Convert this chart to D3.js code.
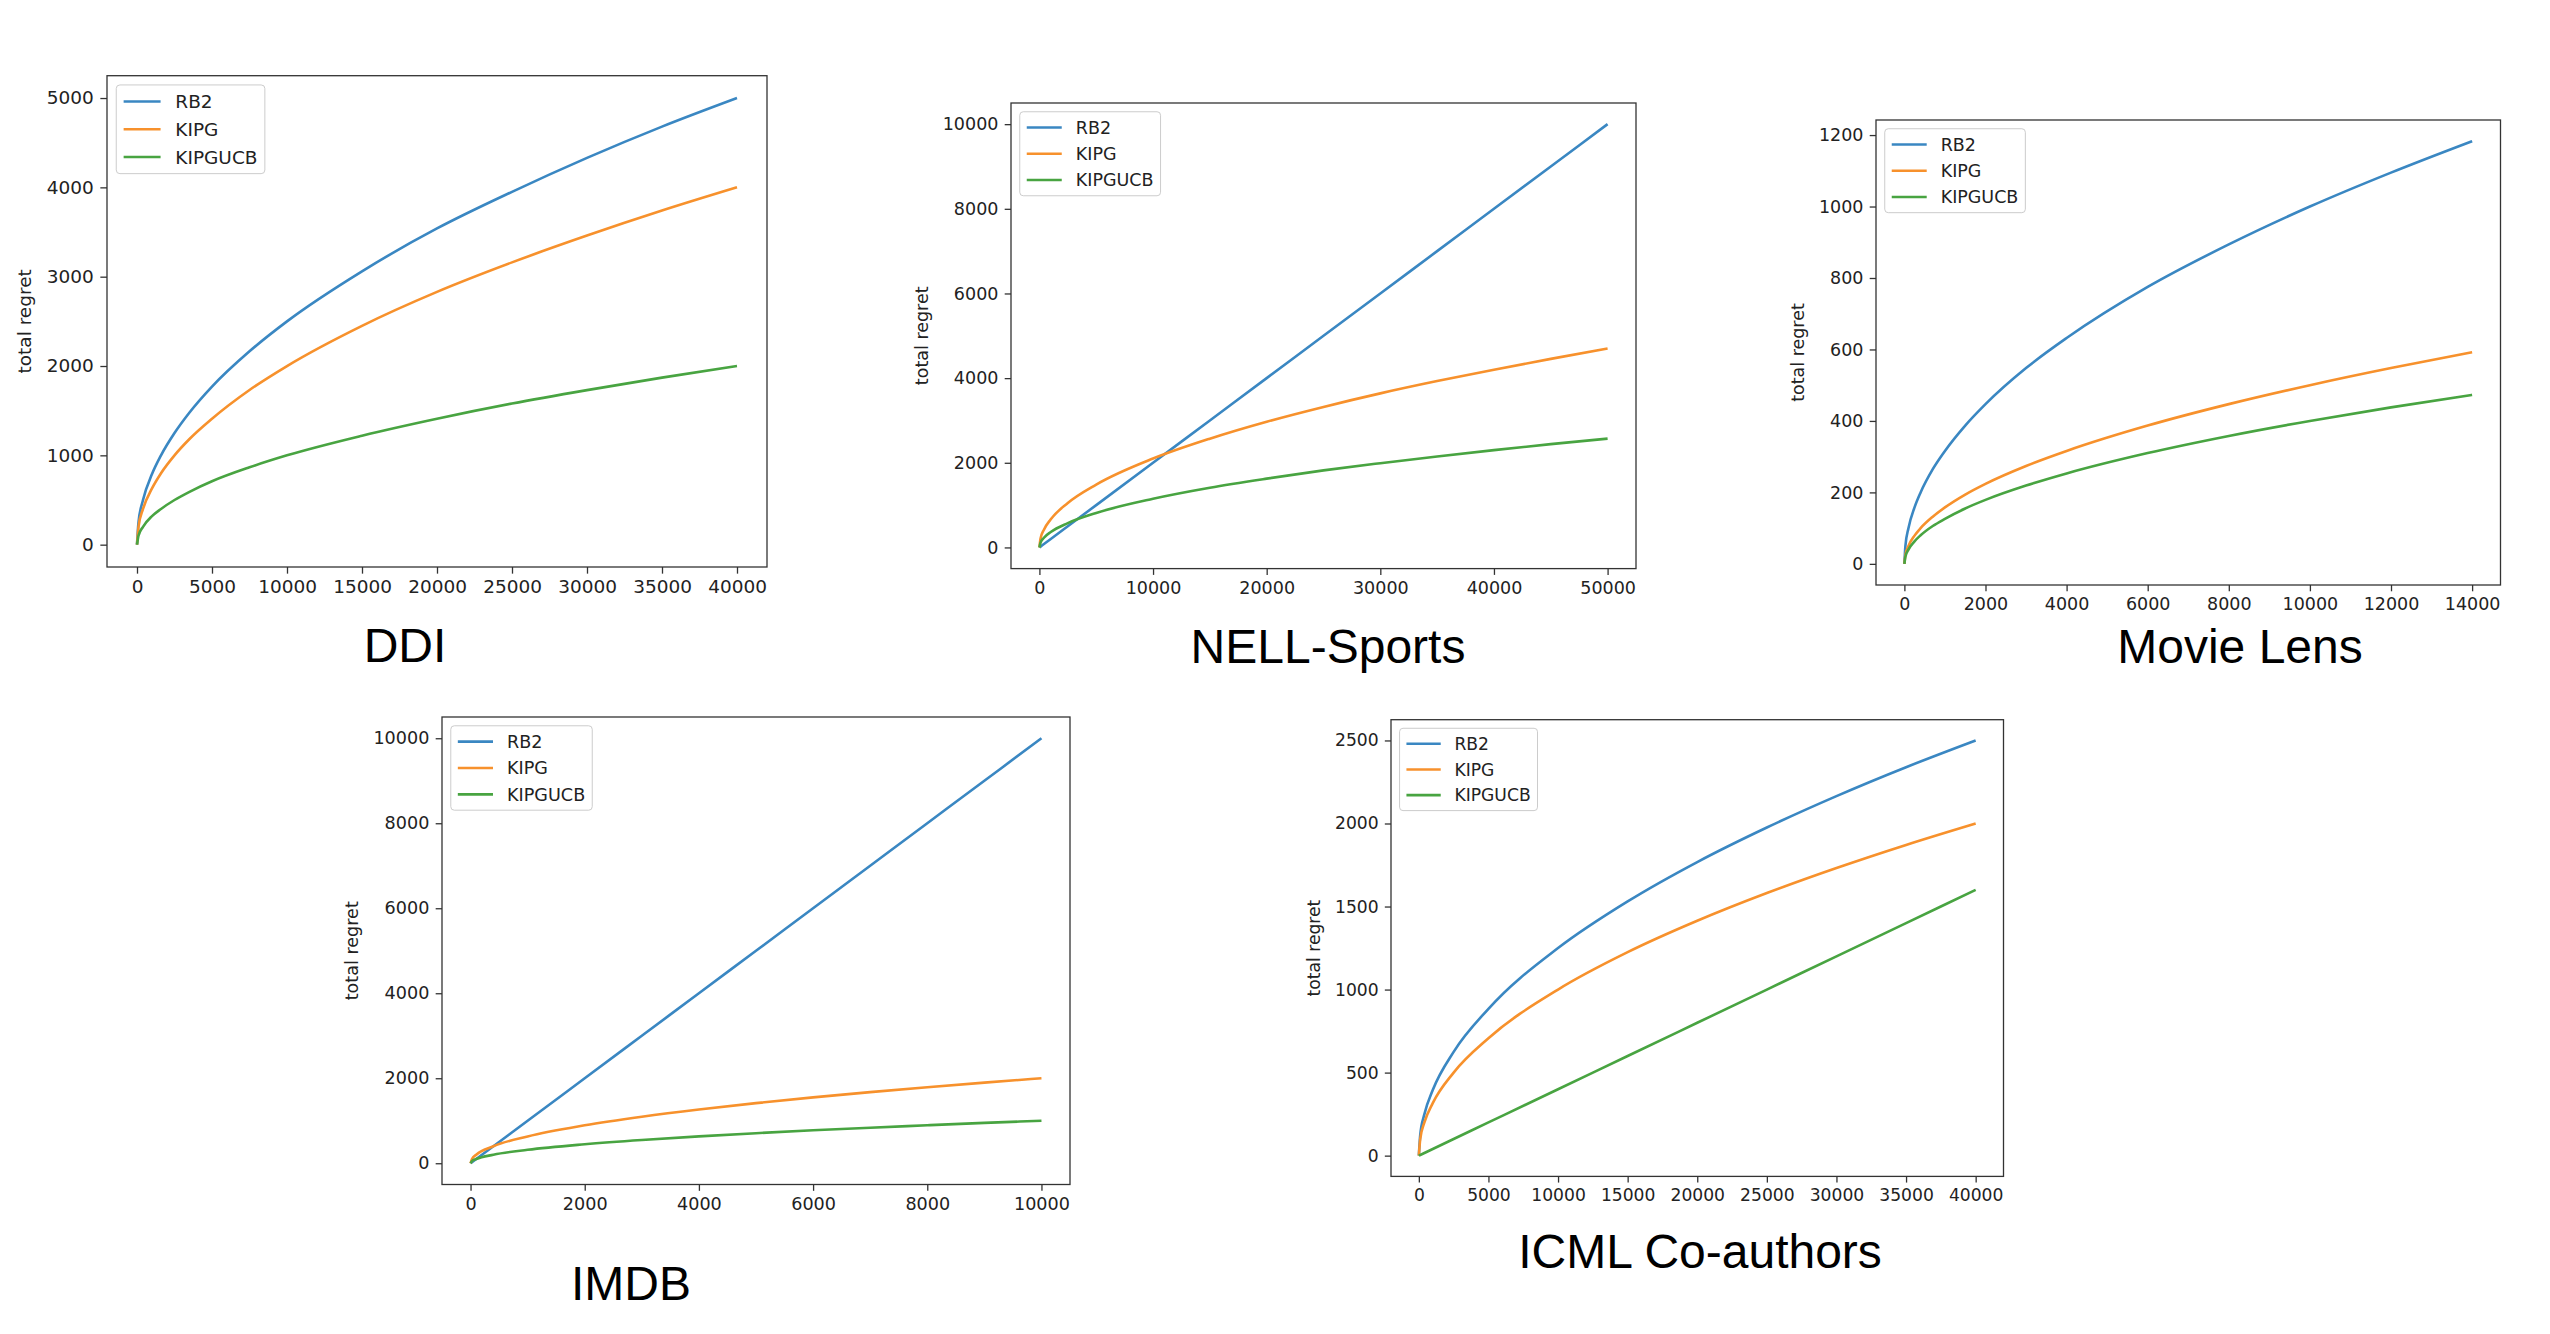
<!DOCTYPE html>
<html>
<head>
<meta charset="utf-8">
<script src="https://cdn.jsdelivr.net/npm/d3@7"></script>
<style>
  html, body { margin: 0; padding: 0; background: #fff; }
  svg { display: block; }
</style>
</head>
<body>
<div id="chart"></div>
<script>
const ddiX       = [0, 100, 400, 1000, 1600, 2500, 3500, 5000, 7500, 10000, 15000, 20000, 25000, 30000, 35000, 40000]
const ddiRB2     = [0, 250, 500, 790, 1000, 1250, 1480, 1770, 2165, 2500, 3060, 3540, 3950, 4330, 4680, 5000]
const ddiKIPG    = [0, 200, 400, 630, 800, 1000, 1183, 1410, 1732, 2000, 2450, 2830, 3160, 3460, 3740, 4000]
const ddiKIPGUCB = [0, 100, 200, 320, 400, 500, 592, 710, 866, 1000, 1220, 1410, 1580, 1730, 1870, 2000]
const ddiXTicks  = [0, 5000, 10000, 15000, 20000, 25000, 30000, 35000, 40000]
const ddiYTicks  = [0, 1000, 2000, 3000, 4000, 5000]

const nellX       = [0, 100, 400, 1000, 2500, 5000, 10000, 15000, 20000, 25000, 30000, 35000, 40000, 45000, 50000]
const nellRB2     = [0, 20, 80, 200, 500, 1000, 2000, 3000, 4000, 5000, 6000, 7000, 8000, 9000, 10000]
const nellKIPG    = [0, 210, 420, 665, 1050, 1485, 2100, 2570, 2970, 3320, 3640, 3930, 4200, 4455, 4700]
const nellKIPGUCB = [0, 115, 230, 365, 575, 815, 1150, 1410, 1625, 1820, 1990, 2150, 2300, 2440, 2570]
const nellXTicks  = [0, 10000, 20000, 30000, 40000, 50000]
const nellYTicks  = [0, 2000, 4000, 6000, 8000, 10000]

const mlX       = [0, 25, 100, 250, 400, 700, 1000, 1500, 2000, 3000, 4000, 6000, 8000, 10000, 12000, 14000]
const mlRB2     = [0, 50, 100, 158, 200, 265, 316, 387, 447, 548, 632, 775, 894, 1000, 1095, 1183]
const mlKIPG    = [0, 25, 50, 79, 100, 132, 158, 194, 224, 274, 316, 387, 447, 500, 548, 592]
const mlKIPGUCB = [0, 20, 40, 63, 80, 106, 126, 155, 179, 219, 253, 310, 358, 400, 438, 473]
const mlXTicks  = [0, 2000, 4000, 6000, 8000, 10000, 12000, 14000]
const mlYTicks  = [0, 200, 400, 600, 800, 1000, 1200]

const imdbX       = [0, 25, 100, 400, 1000, 2000, 3000, 4000, 5000, 6000, 7000, 8000, 9000, 10000]
const imdbRB2     = [0, 25, 100, 400, 1000, 2000, 3000, 4000, 5000, 6000, 7000, 8000, 9000, 10000]
const imdbKIPG    = [0, 100, 200, 400, 632, 894, 1095, 1265, 1414, 1549, 1673, 1789, 1897, 2000]
const imdbKIPGUCB = [0, 50, 100, 200, 316, 447, 548, 632, 707, 775, 837, 894, 949, 1000]
const imdbXTicks  = [0, 2000, 4000, 6000, 8000, 10000]
const imdbYTicks  = [0, 2000, 4000, 6000, 8000, 10000]

const icmlX       = [0, 100, 400, 1000, 2500, 5000, 10000, 15000, 20000, 25000, 30000, 35000, 40000]
const icmlRB2     = [0, 125, 250, 395, 625, 884, 1250, 1531, 1768, 1976, 2165, 2339, 2500]
const icmlKIPG    = [0, 100, 200, 316, 500, 707, 1000, 1225, 1414, 1581, 1732, 1871, 2000]
const icmlKIPGUCB = [0, 4, 16, 40, 100, 200, 400, 600, 800, 1000, 1200, 1400, 1600]
const icmlXTicks  = [0, 5000, 10000, 15000, 20000, 25000, 30000, 35000, 40000]
const icmlYTicks  = [0, 500, 1000, 1500, 2000, 2500]

const seriesNames  = ["RB2", "KIPG", "KIPGUCB"]
const seriesColors = ["#3a87c2", "#f7912c", "#48a441"]

// where each axes box and its caption sits on the page
const panels = [
  { title: "DDI",             box: [107, 75.7, 767, 567],      tx: 405,  ty: 662,
    x: ddiX,  ys: [ddiRB2, ddiKIPG, ddiKIPGUCB],    xTicks: ddiXTicks,  yTicks: ddiYTicks },
  { title: "NELL-Sports",     box: [1011, 103, 1636, 568.6],   tx: 1328, ty: 663,
    x: nellX, ys: [nellRB2, nellKIPG, nellKIPGUCB], xTicks: nellXTicks, yTicks: nellYTicks },
  { title: "Movie Lens",      box: [1876, 120, 2500.5, 585],   tx: 2240, ty: 663,
    x: mlX,   ys: [mlRB2, mlKIPG, mlKIPGUCB],       xTicks: mlXTicks,   yTicks: mlYTicks },
  { title: "IMDB",            box: [442, 717, 1070, 1184.5],   tx: 631,  ty: 1300,
    x: imdbX, ys: [imdbRB2, imdbKIPG, imdbKIPGUCB], xTicks: imdbXTicks, yTicks: imdbYTicks },
  { title: "ICML Co-authors", box: [1391, 719.7, 2003.5, 1176.4], tx: 1700, ty: 1268,
    x: icmlX, ys: [icmlRB2, icmlKIPG, icmlKIPGUCB], xTicks: icmlXTicks, yTicks: icmlYTicks }
]

const svg = d3.select("#chart").append("svg")
  .attr("width", 2550)
  .attr("height", 1334)
  .style("background", "#fff")

const mplFont = "'DejaVu Sans', sans-serif"

panels.forEach(drawPanel)

function drawPanel(p) {
  const [x0, y0, x1, y1] = p.box
  const w = x1 - x0, h = y1 - y0
  const fs = w * 0.028   // 10pt at this panel's scale

  const g = svg.append("g").attr("transform", `translate(${x0},${y0})`)

  // matplotlib style 5% margins
  const xe = d3.extent(p.x), xm = (xe[1] - xe[0]) * 0.05
  const ye = d3.extent(p.ys.flat()), ym = (ye[1] - ye[0]) * 0.05
  const x = d3.scaleLinear().domain([xe[0] - xm, xe[1] + xm]).range([0, w])
  const y = d3.scaleLinear().domain([ye[0] - ym, ye[1] + ym]).range([h, 0])

  const line = d3.line()
    .x(d => x(d[0]))
    .y(d => y(d[1]))
    .curve(d3.curveMonotoneX)

  p.ys.forEach((vals, i) => {
    g.append("path")
      .datum(p.x.map((xv, j) => [xv, vals[j]]))
      .attr("d", line)
      .attr("fill", "none")
      .attr("stroke", seriesColors[i])
      .attr("stroke-width", 2.6)
      .attr("stroke-linejoin", "round")
  })

  const xAxis = g.append("g")
    .attr("transform", `translate(0,${h})`)
    .call(d3.axisBottom(x).tickValues(p.xTicks).tickFormat(d3.format("d"))
      .tickSize(fs * 0.36).tickPadding(fs * 0.36))
  const yAxis = g.append("g")
    .call(d3.axisLeft(y).tickValues(p.yTicks).tickFormat(d3.format("d"))
      .tickSize(fs * 0.36).tickPadding(fs * 0.36))

  ;[xAxis, yAxis].forEach(a => {
    a.select(".domain").remove()
    a.selectAll(".tick line").attr("stroke", "#333").attr("stroke-width", 1.3)
    a.selectAll(".tick text")
      .attr("font-family", mplFont)
      .attr("font-size", fs)
      .attr("fill", "#222")
  })

  // y label sits left of the tick labels
  const yb = yAxis.node().getBBox()
  g.append("text")
    .attr("transform", `translate(${yb.x - fs * 0.85},${h / 2}) rotate(-90)`)
    .attr("text-anchor", "middle")
    .attr("font-family", mplFont)
    .attr("font-size", fs)
    .attr("fill", "#222")
    .text("total regret")

  // axes frame
  g.append("rect")
    .attr("width", w)
    .attr("height", h)
    .attr("fill", "none")
    .attr("stroke", "#333")
    .attr("stroke-width", 1.3)

  // legend, upper left
  const lg = g.append("g").attr("transform", `translate(${fs * 0.5},${fs * 0.5})`)
  const frame = lg.append("rect")
    .attr("height", fs * 4.8)
    .attr("rx", fs * 0.2)
    .attr("fill", "#fff")
    .attr("fill-opacity", 0.8)
    .attr("stroke", "#ccc")
    .attr("stroke-width", 1)
  let maxW = 0
  seriesNames.forEach((name, i) => {
    const cy = fs * (0.9 + 1.5 * i)
    lg.append("line")
      .attr("x1", fs * 0.4).attr("x2", fs * 2.4)
      .attr("y1", cy).attr("y2", cy)
      .attr("stroke", seriesColors[i])
      .attr("stroke-width", 2.6)
    const t = lg.append("text")
      .attr("x", fs * 3.2)
      .attr("y", cy)
      .attr("dy", "0.36em")
      .attr("font-family", mplFont)
      .attr("font-size", fs)
      .attr("fill", "#222")
      .text(name)
    maxW = Math.max(maxW, t.node().getComputedTextLength())
  })
  frame.attr("width", fs * 3.6 + maxW)

  // dataset caption under the panel
  svg.append("text")
    .attr("x", p.tx)
    .attr("y", p.ty)
    .attr("text-anchor", "middle")
    .attr("font-family", "'Liberation Sans', Arial, sans-serif")
    .attr("font-size", 48)
    .attr("fill", "#000")
    .text(p.title)
}
</script>
</body>
</html>
